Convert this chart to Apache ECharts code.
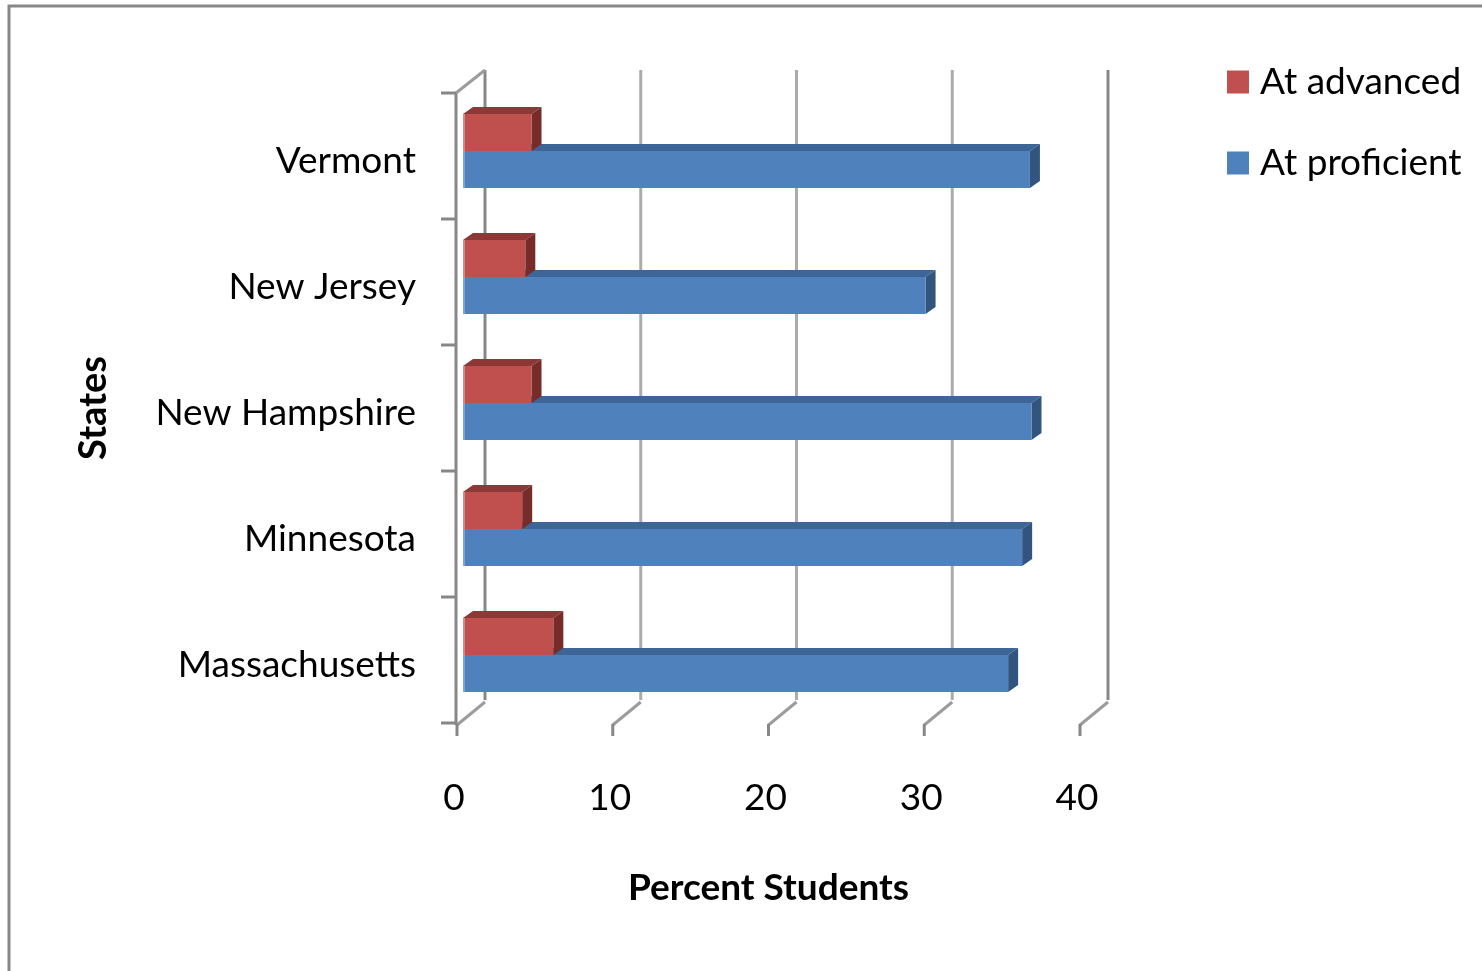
<!DOCTYPE html>
<html>
<head>
<meta charset="utf-8">
<script src="https://cdn.jsdelivr.net/npm/echarts@6/dist/echarts.min.js"></script>
<style>
html,body{margin:0;padding:0;background:#fff;}
#chart{width:1482px;height:971px;}
</style>
</head>
<body>
<div id="chart"></div>
<script>
// ---- data ----
var states = ['Vermont', 'New Jersey', 'New Hampshire', 'Minnesota', 'Massachusetts'];
var atAdvanced = [4.4, 4.0, 4.4, 3.8, 5.8];
var atProficient = [36.4, 29.7, 36.5, 35.9, 35.0];
var xTicks = [0, 10, 20, 30, 40];
var seriesNames = ['At advanced', 'At proficient'];

// ---- style ----
var FONT = 'Lato';
var DX = 28, DY = -23;            // back wall offset
var BX = 6, BY = -5;              // bar offset from front plane
var DEPTH_X = 10, DEPTH_Y = -7;   // bar depth

var chart = echarts.init(document.getElementById('chart'));

function barRender(kind) {
  var colors = kind === 'adv'
    ? {front: '#C0504D', top: '#8C3836', side: '#772C2A', edge: '#D38886'}
    : {front: '#4F81BD', top: '#3D6597', side: '#32557F', edge: '#7FA3D3'};
  return function (params, api) {
    var v = api.value(0), ci = api.value(1);
    var p0 = api.coord([0, ci]);
    var p1 = api.coord([v, ci]);
    var band = api.size([0, 1])[1];
    var th = band * 0.294;
    var c = p0[1] + BY;
    var T, B;
    if (kind === 'adv') { T = c - th; B = c; } else { T = c; B = c + th; }
    var L = p0[0] + BX, R = p1[0] + BX;
    return {
      type: 'group',
      children: [
        {type: 'polygon', shape: {points: [[L, T], [R, T], [R + DEPTH_X, T + DEPTH_Y], [L + DEPTH_X, T + DEPTH_Y]]},
          style: {fill: colors.top}},
        {type: 'polygon', shape: {points: [[R, T], [R + DEPTH_X, T + DEPTH_Y], [R + DEPTH_X, B + DEPTH_Y], [R, B]]},
          style: {fill: colors.side}},
        {type: 'rect', shape: {x: L, y: T, width: R - L, height: B - T}, style: {fill: colors.front}},
        {type: 'rect', shape: {x: L, y: T, width: 2, height: B - T}, style: {fill: colors.edge}}
      ]
    };
  };
}

function wallRender(params, api) {
  var v = api.value(0);
  var cs = params.coordSys;
  var x = api.coord([v, 0])[0];
  var top = cs.y, bottom = cs.y + cs.height;
  var dark = '#878787', light = '#ABABAB', diag = '#9C9C9C';
  var isEdge = (v === xTicks[0] || v === xTicks[xTicks.length - 1]);
  var children = [
    {type: 'line', shape: {x1: x + DX, y1: top + DY, x2: x + DX, y2: bottom + DY},
      style: {stroke: isEdge ? dark : light, lineWidth: 3}},
    {type: 'line', shape: {x1: x, y1: bottom + 2, x2: x + DX, y2: bottom + 2 + DY},
      style: {stroke: diag, lineWidth: 3}},
    {type: 'line', shape: {x1: x, y1: bottom + 1, x2: x, y2: bottom + 13},
      style: {stroke: dark, lineWidth: 3}}
  ];
  if (v === xTicks[0]) {
    children.push({type: 'line', shape: {x1: x - 1, y1: top, x2: x - 1, y2: bottom + 2},
      style: {stroke: dark, lineWidth: 3}});
    children.push({type: 'line', shape: {x1: x - 1, y1: top, x2: x + DX, y2: top + DY},
      style: {stroke: diag, lineWidth: 3}});
    var n = states.length;
    for (var i = 0; i <= n; i++) {
      var yy = top + i * cs.height / n;
      children.push({type: 'line', shape: {x1: x - 16, y1: yy, x2: x - 1, y2: yy},
        style: {stroke: dark, lineWidth: 3}});
    }
  }
  return {type: 'group', children: children};
}

var option = {
  animation: false,
  backgroundColor: '#fff',
  graphic: [{
    type: 'rect', silent: true, z: -10,
    shape: {x: 9, y: 6, width: 1500, height: 1000},
    style: {fill: 'none', stroke: '#878787', lineWidth: 3}
  }],
  grid: {left: 457, right: 402, top: 93, bottom: 248},
  legend: {
    data: seriesNames,
    orient: 'vertical',
    left: 1222,
    top: 55,
    itemWidth: 22,
    itemHeight: 23,
    itemGap: 37,
    icon: 'rect',
    textStyle: {fontFamily: FONT, fontSize: 37, color: '#000', lineHeight: 44, padding: [0, 0, 0, 6]}
  },
  xAxis: {
    type: 'value', min: 0, max: 40, interval: 10,
    axisLine: {show: false}, axisTick: {show: false}, splitLine: {show: false},
    axisLabel: {fontFamily: FONT, fontSize: 37, color: '#000', margin: 57, padding: [0, 6, 0, 0]},
    name: 'Percent Students', nameLocation: 'middle', nameGap: 147,
    nameTextStyle: {fontFamily: FONT, fontSize: 37, fontWeight: 'bold', color: '#000'}
  },
  yAxis: {
    type: 'category', data: states, inverse: true,
    axisLine: {show: false}, axisTick: {show: false}, splitLine: {show: false},
    axisLabel: {
      margin: 41,
      formatter: '{s|{value}}',
      rich: {s: {fontFamily: FONT, fontSize: 37, color: '#000', padding: [10, 0, 0, 0]}}
    },
    name: 'States', nameLocation: 'middle', nameGap: 344, nameRotate: 90,
    nameTextStyle: {fontFamily: FONT, fontSize: 38, fontWeight: 'bold', color: '#000'}
  },
  series: [
    {
      type: 'custom', name: 'walls', renderItem: wallRender, silent: true, z: 1,
      data: xTicks.map(function (t) { return [t, 0]; }),
      encode: {x: 0, y: 1}
    },
    {
      type: 'custom', name: seriesNames[1], renderItem: barRender('pro'), z: 2,
      itemStyle: {color: '#4F81BD'},
      data: atProficient.map(function (v, i) { return [v, i]; }),
      encode: {x: 0, y: 1}
    },
    {
      type: 'custom', name: seriesNames[0], renderItem: barRender('adv'), z: 3,
      itemStyle: {color: '#C0504D'},
      data: atAdvanced.map(function (v, i) { return [v, i]; }),
      encode: {x: 0, y: 1}
    }
  ]
};
chart.setOption(option);
</script>
</body>
</html>
